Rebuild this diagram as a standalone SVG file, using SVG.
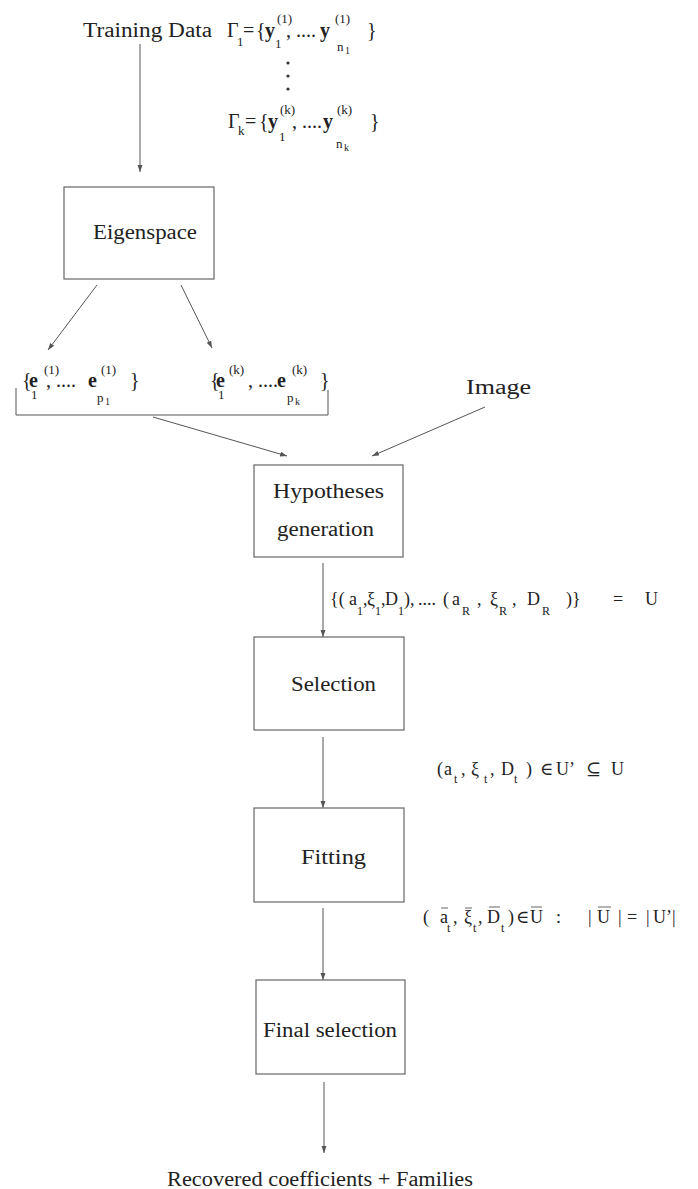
<svg xmlns="http://www.w3.org/2000/svg" width="698" height="1189" viewBox="0 0 698 1189">
<style>
text{font-family:"Liberation Serif","DejaVu Serif",serif;fill:#222;}
.t{font-size:20px;}
.m{font-size:20px;}
.s{font-size:13px;}
.ss{font-size:10px;}
.l{font-size:12px;}
.b{font-weight:bold;}
.f{font-size:18px;}
.box{fill:none;stroke:#666;stroke-width:1.2;}
.ln{fill:none;stroke:#555;stroke-width:1;}
.bar{stroke:#666;stroke-width:1;}
</style>
<defs>
<marker id="ah" markerWidth="8" markerHeight="6" refX="7" refY="2.5" orient="auto" markerUnits="userSpaceOnUse">
<path d="M0,0 L7,2.5 L0,5 z" fill="#555"/>
</marker>
</defs>

<g id="connectors">
<line class="ln" x1="140" y1="44" x2="140" y2="172" marker-end="url(#ah)"/>
<line class="ln" x1="97" y1="285" x2="48" y2="350" marker-end="url(#ah)"/>
<line class="ln" x1="181" y1="285" x2="212" y2="348" marker-end="url(#ah)"/>
<line class="ln" x1="153" y1="417" x2="287" y2="456" marker-end="url(#ah)"/>
<line class="ln" x1="485" y1="407" x2="372" y2="456" marker-end="url(#ah)"/>
<line class="ln" x1="323" y1="563" x2="323" y2="637" marker-end="url(#ah)"/>
<line class="ln" x1="323" y1="737" x2="323" y2="808" marker-end="url(#ah)"/>
<line class="ln" x1="323" y1="908" x2="323" y2="980" marker-end="url(#ah)"/>
<line class="ln" x1="324" y1="1082" x2="324" y2="1153" marker-end="url(#ah)"/>
<polyline class="ln" points="16,388 16,415 328,415 328,390"/>
</g>

<g id="training-data">
<text class="t" x="83" y="37" font-size="19" textLength="129" lengthAdjust="spacingAndGlyphs">Training Data</text>
<text class="m"><tspan x="227" y="37">Γ</tspan><tspan class="s" x="237" y="46">1</tspan><tspan x="243" y="37">=</tspan><tspan x="256" y="37">{</tspan><tspan class="b" x="265" y="37">y</tspan><tspan class="s" x="277" y="23">(1)</tspan><tspan class="s" x="275" y="48">1</tspan><tspan x="286" y="37">, ....</tspan><tspan class="b" x="320" y="37">y</tspan><tspan class="s" x="335" y="23">(1)</tspan><tspan class="s" x="337" y="51">n</tspan><tspan class="ss" x="345" y="54">1</tspan><tspan x="367" y="37">}</tspan></text>
<circle cx="288" cy="63" r="1.6" fill="#333"/>
<circle cx="288" cy="76" r="1.6" fill="#333"/>
<circle cx="288" cy="89" r="1.6" fill="#333"/>
<text class="m"><tspan x="228" y="128">Γ</tspan><tspan class="s" x="238" y="135">k</tspan><tspan x="245" y="128">=</tspan><tspan x="259" y="128">{</tspan><tspan class="b" x="268" y="128">y</tspan><tspan class="s" x="280" y="114">(k)</tspan><tspan class="s" x="279" y="141">1</tspan><tspan x="292" y="128">, ....</tspan><tspan class="b" x="323" y="128">y</tspan><tspan class="s" x="337" y="114">(k)</tspan><tspan class="s" x="336" y="148">n</tspan><tspan class="ss" x="344" y="151">k</tspan><tspan x="370" y="128">}</tspan></text>
</g>

<g id="eigenspace">
<rect class="box" x="64" y="187" width="150" height="92"/>
<text class="t" x="93" y="239" font-size="22" textLength="104" lengthAdjust="spacingAndGlyphs">Eigenspace</text>
</g>

<g id="eigenvectors">
<text class="m"><tspan x="22" y="387">{</tspan><tspan class="b" x="29" y="387">e</tspan><tspan class="s" x="44" y="374">(1)</tspan><tspan class="s" x="31" y="399">1</tspan><tspan x="46" y="387">, ....</tspan><tspan class="b" x="88" y="387">e</tspan><tspan class="s" x="101" y="374">(1)</tspan><tspan class="s" x="97" y="402">p</tspan><tspan class="ss" x="105" y="405">1</tspan><tspan x="130" y="387">}</tspan></text>
<text class="m"><tspan x="210" y="387">{</tspan><tspan class="b" x="216" y="387">e</tspan><tspan class="s" x="229" y="374">(k)</tspan><tspan class="s" x="218" y="399">1</tspan><tspan x="248" y="387">, ....</tspan><tspan class="b" x="277" y="387">e</tspan><tspan class="s" x="292" y="374">(k)</tspan><tspan class="s" x="287" y="402">p</tspan><tspan class="ss" x="295" y="405">k</tspan><tspan x="320" y="387">}</tspan></text>
</g>

<g id="image">
<text class="t" x="466" y="394" font-size="23" textLength="65" lengthAdjust="spacingAndGlyphs">Image</text>
</g>

<g id="hypotheses">
<rect class="box" x="254" y="465" width="149" height="92"/>
<text class="t" x="273" y="498" textLength="111" lengthAdjust="spacingAndGlyphs">Hypotheses</text>
<text class="t" x="277" y="536" textLength="97" lengthAdjust="spacingAndGlyphs">generation</text>
</g>

<g id="label-U">
<text class="f"><tspan x="330" y="605">{(</tspan><tspan x="349" y="605">a</tspan><tspan class="l" x="357" y="615">1</tspan><tspan x="363" y="605">,</tspan><tspan x="367" y="605">ξ</tspan><tspan class="l" x="375" y="615">1</tspan><tspan x="381" y="605">,</tspan><tspan x="385" y="605">D</tspan><tspan class="l" x="398" y="615">1</tspan><tspan x="404" y="605">),</tspan><tspan x="418" y="605">....</tspan><tspan x="443" y="605">(</tspan><tspan x="452" y="605">a</tspan><tspan class="l" x="462" y="615">R</tspan><tspan x="477" y="605">,</tspan><tspan x="490" y="605">ξ</tspan><tspan class="l" x="499" y="615">R</tspan><tspan x="512" y="605">,</tspan><tspan x="527" y="605">D</tspan><tspan class="l" x="542" y="615">R</tspan><tspan x="566" y="605">)}</tspan><tspan x="613" y="605">=</tspan><tspan x="645" y="605">U</tspan></text>
</g>

<g id="selection">
<rect class="box" x="254" y="637" width="150" height="93"/>
<text class="t" x="291" y="691" textLength="85" lengthAdjust="spacingAndGlyphs">Selection</text>
</g>

<g id="label-Uprime">
<text class="f"><tspan x="437" y="775">(</tspan><tspan x="444" y="775">a</tspan><tspan class="l" x="454" y="783">t</tspan><tspan x="461" y="775">,</tspan><tspan x="471" y="775">ξ</tspan><tspan class="l" x="484" y="783">t</tspan><tspan x="490" y="775">,</tspan><tspan x="501" y="775">D</tspan><tspan class="l" x="514" y="783">t</tspan><tspan x="526" y="775">)</tspan><tspan x="540" y="775">∈</tspan><tspan x="556" y="775">U’</tspan><tspan x="586" y="775">⊆</tspan><tspan x="611" y="775">U</tspan></text>
</g>

<g id="fitting">
<rect class="box" x="254" y="808" width="150" height="94"/>
<text class="t" x="301" y="864" textLength="65" lengthAdjust="spacingAndGlyphs">Fitting</text>
</g>

<g id="label-Ubar">
<text class="f"><tspan x="423" y="923">(</tspan><tspan x="440" y="923">a</tspan><tspan class="l" x="447" y="932">t</tspan><tspan x="453" y="923">,</tspan><tspan x="464" y="923">ξ</tspan><tspan class="l" x="473" y="932">t</tspan><tspan x="478" y="923">,</tspan><tspan x="487" y="923">D</tspan><tspan class="l" x="501" y="932">t</tspan><tspan x="508" y="923">)</tspan><tspan x="516" y="923">∈</tspan><tspan x="530" y="923">U</tspan><tspan x="556" y="923">:</tspan><tspan x="588" y="923">|</tspan><tspan x="597" y="923">U</tspan><tspan x="618" y="923">|</tspan><tspan x="627" y="923">=</tspan><tspan x="646" y="923">|</tspan><tspan x="653" y="923">U’|</tspan></text>
<line class="bar" x1="441" y1="908" x2="448" y2="908"/>
<line class="bar" x1="465" y1="908" x2="472" y2="908"/>
<line class="bar" x1="489" y1="907" x2="500" y2="907"/>
<line class="bar" x1="531" y1="907" x2="542" y2="907"/>
<line class="bar" x1="598" y1="907" x2="611" y2="907"/>
</g>

<g id="final-selection">
<rect class="box" x="256" y="980" width="149" height="94"/>
<text class="t" x="263" y="1037" textLength="134" lengthAdjust="spacingAndGlyphs">Final selection</text>
</g>

<g id="output">
<text class="t" x="167" y="1186" font-size="21" textLength="306" lengthAdjust="spacingAndGlyphs">Recovered coefficients + Families</text>
</g>
</svg>
